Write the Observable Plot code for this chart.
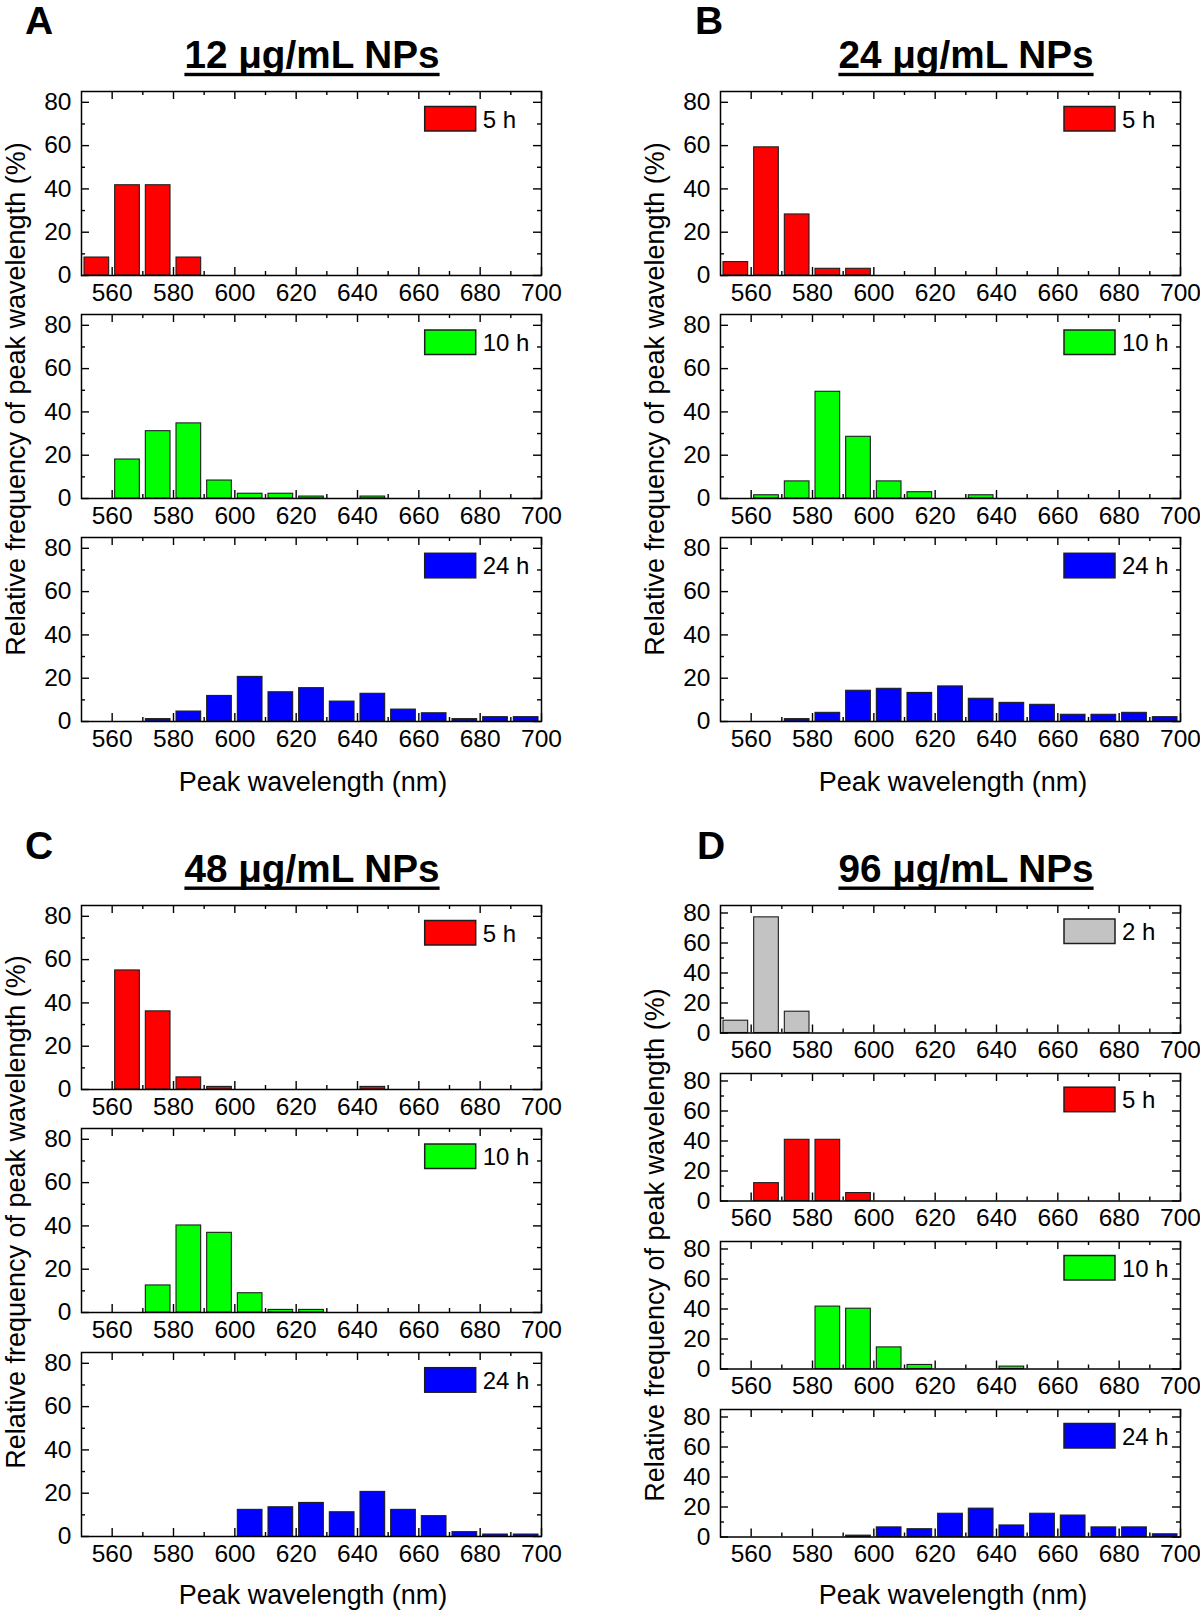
<!DOCTYPE html>
<html><head><meta charset="utf-8">
<script src="https://cdn.jsdelivr.net/npm/d3@7"></script>
<script src="https://cdn.jsdelivr.net/npm/@observablehq/plot@0.6"></script>
<style>
body{margin:0;background:#fff;}
#fig{position:relative;width:1200px;height:1614px;overflow:hidden;background:#fff;}
</style></head><body><div id="fig"></div>
<script>
const FONT = '"Liberation Sans", Arial, Helvetica, sans-serif';

// ---- data ----
const binStarts = [550,560,570,580,590,600,610,620,630,640,650,660,670,680,690];
const binWidth = 10;
const xDomain = [550, 700];
const yDomain = [0, 85];
const xTicks = [560,580,600,620,640,660,680,700];
const xMinor = [570,590,610,630,650,670,690];
const yTicks = [0,20,40,60,80];
const yMinor = [10,30,50,70];

const A_5h  = [8.3,41.7,41.7,8.3,0,0,0,0,0,0,0,0,0,0,0];
const A_10h = [0,18.0,31.1,34.7,8.3,2.2,2.2,0.9,0,0.9,0,0,0,0,0];
const A_24h = [0,0,1.1,4.6,11.8,20.6,13.5,15.4,9.2,12.8,5.5,3.8,1.1,2.0,2.0];

const B_5h  = [6.2,59.2,28.2,3.1,3.1,0,0,0,0,0,0,0,0,0,0];
const B_10h = [0,1.5,7.9,49.3,28.5,7.9,2.9,0,1.5,0,0,0,0,0,0];
const B_24h = [0,0,1.1,4.0,14.2,15.1,13.2,16.2,10.5,8.6,7.7,3.1,3.1,4.0,2.0];

const C_5h  = [0,55.0,36.1,5.6,1.2,0,0,0,0,1.2,0,0,0,0,0];
const C_10h = [0,0,12.5,40.2,36.8,8.9,1.2,1.2,0,0,0,0,0,0,0];
const C_24h = [0,0,0,0,0,12.3,13.5,15.5,11.2,20.6,12.3,9.4,2.0,0.9,0.9];

const D_2h  = [8.2,77.1,14.2,0,0,0,0,0,0,0,0,0,0,0,0];
const D_5h  = [0,11.9,40.8,40.8,5.3,0,0,0,0,0,0,0,0,0,0];
const D_10h = [0,0,0,41.6,40.2,14.4,2.7,0,0,1.6,0,0,0,0,0];
const D_24h = [0,0,0,0,0.9,6.4,5.2,15.5,18.9,7.7,15.5,14.3,6.4,6.4,1.8];

const panelLetters = ["A","B","C","D"];
const panelTitles = ["12 μg/mL NPs","24 μg/mL NPs","48 μg/mL NPs","96 μg/mL NPs"];
const xLabel = "Peak wavelength (nm)";
const yLabel = "Relative frequency of peak wavelength (%)";
const colors = {"2 h":"#C3C3C3","5 h":"#FF0000","10 h":"#00FF00","24 h":"#0000FF"};

// ---- layout ----
const FW = 460;
const panels = [
  {left:80.7, tops:[90.5,314,537.3], h:184, series:[["5 h",A_5h],["10 h",A_10h],["24 h",A_24h]],
   letter:[25,33.5], title:[312,68.3], ylab:[24.5,399], xlab:[313,790.5]},
  {left:720, tops:[90.5,314,537.3], h:184, series:[["5 h",B_5h],["10 h",B_10h],["24 h",B_24h]],
   letter:[695,33.5], title:[966,68.3], ylab:[663.5,399], xlab:[953,790.5]},
  {left:80.7, tops:[904.5,1128,1351.7], h:184, series:[["5 h",C_5h],["10 h",C_10h],["24 h",C_24h]],
   letter:[25,859], title:[312,882], ylab:[24.5,1212], xlab:[313,1604]},
  {left:720, tops:[904.5,1072.7,1241,1409], h:127.5, series:[["2 h",D_2h],["5 h",D_5h],["10 h",D_10h],["24 h",D_24h]],
   letter:[697,859], title:[966,882], ylab:[663.5,1245], xlab:[953,1604]}
];

const fig = document.getElementById("fig");

function subplot(values, color, frameLeft, frameTop, frameH) {
  const mL = 70, mR = 40, mT = 12, mB = 45;
  const bars = binStarts.map((b,i)=>({lo:b, hi:b+binWidth, pct:values[i]})).filter(d=>d.pct>0);
  const tickStyle = {stroke:"#000", strokeWidth:1.4};
  const p = Plot.plot({
    width: mL+FW+mR, height: mT+frameH+mB,
    marginLeft: mL, marginRight: mR, marginTop: mT, marginBottom: mB,
    style: {background:"transparent", fontFamily:FONT, fontSize:"24.5px", color:"#000", overflow:"visible"},
    x: {domain:xDomain},
    y: {domain:yDomain},
    marks: [
      Plot.rectY(bars, {x1:"lo", x2:"hi", y:"pct", fill:color, stroke:"#1e1e1e", strokeWidth:1.1, insetLeft:3, insetRight:3}),
      Plot.tickX(xTicks, {x:d=>d, insetTop:frameH-8, ...tickStyle}),
      Plot.tickX(xTicks, {x:d=>d, insetBottom:frameH-8, ...tickStyle}),
      Plot.tickX(xMinor, {x:d=>d, insetTop:frameH-4, ...tickStyle}),
      Plot.tickX(xMinor, {x:d=>d, insetBottom:frameH-4, ...tickStyle}),
      Plot.tickY(yTicks, {y:d=>d, insetRight:FW-8, ...tickStyle}),
      Plot.tickY(yTicks, {y:d=>d, insetLeft:FW-8, ...tickStyle}),
      Plot.tickY(yMinor, {y:d=>d, insetRight:FW-4, ...tickStyle}),
      Plot.tickY(yMinor, {y:d=>d, insetLeft:FW-4, ...tickStyle}),
      Plot.axisX(xTicks, {tickSize:0, tickPadding:8, label:null}),
      Plot.axisY(yTicks, {tickSize:0, tickPadding:10, label:null}),
      Plot.frame({stroke:"#000", strokeWidth:1.5})
    ]
  });
  p.style.position = "absolute";
  p.style.left = (frameLeft - mL) + "px";
  p.style.top = (frameTop - mT) + "px";
  p.style.maxWidth = "none";
  fig.appendChild(p);
}

panels.forEach(pn => {
  pn.series.forEach(([name, vals], i) => subplot(vals, colors[name], pn.left, pn.tops[i], pn.h));
});

// ---- overlay text ----
const svg = d3.select(fig).append("svg")
  .attr("width",1200).attr("height",1614)
  .style("position","absolute").style("left","0px").style("top","0px")
  .attr("font-family", FONT);

panels.forEach((pn, k) => {
  svg.append("text").attr("x",pn.letter[0]).attr("y",pn.letter[1])
    .attr("font-size",39).attr("font-weight","bold").text(panelLetters[k]);
  const t = svg.append("text").attr("x",pn.title[0]).attr("y",pn.title[1])
    .attr("text-anchor","middle").attr("font-size",38.7).attr("font-weight","bold").text(panelTitles[k]);
  const bb = t.node().getBBox();
  svg.append("rect").attr("x",bb.x).attr("y",pn.title[1]+4.5).attr("width",bb.width).attr("height",3.4).attr("fill","#000");
  svg.append("text").attr("transform",`translate(${pn.ylab[0]},${pn.ylab[1]}) rotate(-90)`)
    .attr("text-anchor","middle").attr("font-size",27).text(yLabel);
  svg.append("text").attr("x",pn.xlab[0]).attr("y",pn.xlab[1])
    .attr("text-anchor","middle").attr("font-size",27).text(xLabel);
  const legOff = pn.h > 150 ? 16 : 14.5;
  pn.series.forEach(([name], i) => {
    const top = pn.tops[i];
    svg.append("rect").attr("x",pn.left+344).attr("y",top+legOff).attr("width",51).attr("height",24.5)
      .attr("fill",colors[name]).attr("stroke","#1e1e1e").attr("stroke-width",1.5);
    svg.append("text").attr("x",pn.left+402).attr("y",top+legOff+21)
      .attr("font-size",24).text(name);
  });
});
</script>
</body></html>
